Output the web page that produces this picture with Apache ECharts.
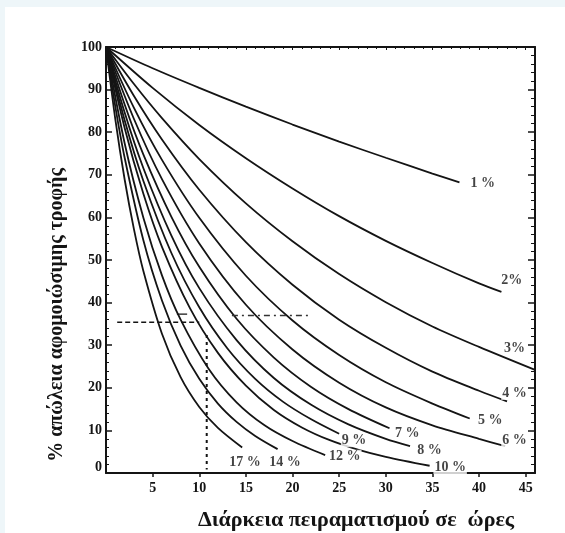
<!DOCTYPE html>
<html><head><meta charset="utf-8">
<script src="https://cdn.jsdelivr.net/npm/echarts@6/dist/echarts.min.js"></script>
<style>
html,body{margin:0;padding:0;background:#eef6f9;overflow:hidden;}
#paper{position:absolute;left:5px;top:7px;width:560px;height:526px;background:#ffffff;}
#chart{position:absolute;left:0;top:0;width:565px;height:533px;}
</style></head><body>
<div id="paper"></div><div id="chart"></div>
<script>
// ---- data ----
const xAxisTitle = 'Διάρκεια πειραματισμού σε  ώρες';
const yAxisTitle = '% απώλεια αφομοιώσιμης τροφής';

const curve1  = [[0,100],[5,95],[10,90.4],[15,86],[20,81.8],[25,77.8],[30,74],[35,70.3],[37.9,68.2]];
const curve2  = [[0,100],[5,90.4],[10,81.7],[15,73.9],[20,66.8],[25,60.3],[30,54.5],[35,49.3],[40,44.5],[42.4,42.5]];
const curve3  = [[0,100],[3,91.3],[6,83.3],[10,73.7],[15,63.3],[20,54.4],[25,46.7],[30,40.1],[35,34.4],[40,29.6],[46,24.2]];
const curve4  = [[0,100],[3,88.5],[6,78.3],[10,66.5],[15,54.2],[20,44.2],[25,36],[30,29.4],[35,23.8],[40,19.3],[43,16.8]];
const curve5  = [[0,100],[3,85.7],[6,73.5],[10,59.9],[15,46.3],[20,35.8],[25,27.7],[30,21.3],[35,16.3],[39,12.8]];
const curve6  = [[0,100],[3,83.1],[6,69],[10,53.9],[15,39.5],[20,29],[25,21.2],[30,15.4],[35,11.2],[40,8],[42.8,6.3]];
const curve7  = [[0,100],[2,86.5],[4,74.8],[7,60.2],[10,48.4],[14,36.2],[18,27.1],[22,20.2],[26,15],[30.4,10.5]];
const curve8  = [[0,100],[2,84.6],[4,71.6],[7,55.8],[10,43.4],[14,31.2],[18,22.3],[22,16],[26,11.4],[30,8],[32.6,6.3]];
const curve9  = [[0,100],[2,82.8],[4,68.6],[7,51.7],[10,38.9],[13,29.3],[16,22.1],[19,16.7],[22,12.6],[25,9.2]];
const curve10 = [[0,100],[2,81],[4,65.6],[6,53.1],[9,38.7],[12,28.2],[15,20.5],[18,14.8],[21,10.7],[24,7.7],[27,5.5],[30,3.8],[34.7,1.7]];
const curve12 = [[0,100],[2,77.4],[4,60],[6,46.4],[8,36],[11,24.5],[14,16.6],[17,11.2],[20,7.5],[23.5,4.2]];
const curve14 = [[0,100],[1,86],[2,74],[4,54.7],[6,40.5],[8,29.9],[10,22.1],[12,16.3],[14,12],[16,8.7],[18.4,5.6]];
const curve17 = [[0,100],[1,83],[2,68.9],[3,57.2],[4,47.5],[6,32.7],[8,22.5],[10,15.5],[12,10.6],[14.6,6]];

const curveLabels = ['1 %','2%','3%','4 %','5 %','6 %','7 %','8 %','9 %','10 %','12 %','14 %','17 %'];
const labelX      = [40.4, 43.5, 43.8, 43.8, 41.2, 43.8, 32.3, 34.7, 26.6, 36.9, 25.6, 19.2, 14.9];
const labelY      = [68.1, 45.3, 29.3, 18.8, 12.4, 7.7, 9.4, 5.4, 7.7, 1.4, 3.8, 2.6, 2.6];

const guideH    = [[1.2,35.4],[10,35.4]];
const guideV    = [[10.8,32.4],[10.8,0.8]];
const guideDash = [[13.5,37],[21.9,37]];
const guideTick = [[7.6,37.3],[8.7,37.3]];

// ---- chart ----
const curves = [curve1,curve2,curve3,curve4,curve5,curve6,curve7,curve8,curve9,curve10,curve12,curve14,curve17];
const SERIF = '"Liberation Serif","DejaVu Serif",serif';
const INK = '#141414';

const series = curves.map((c,i)=>({
  type:'line', data:c, smooth:0.3, showSymbol:false, silent:true,
  lineStyle:{color:INK,width:1.8}, z:2
}));
series.push({type:'line',data:guideH,showSymbol:false,silent:true,lineStyle:{color:INK,width:1.6,type:[5,3]}});
series.push({type:'line',data:guideV,showSymbol:false,silent:true,lineStyle:{color:INK,width:2,type:[3,4]}});
series.push({type:'line',data:guideDash,showSymbol:false,silent:true,lineStyle:{color:'#333',width:1.5,type:[6,4,2,4]}});
series.push({type:'line',data:guideTick,showSymbol:false,silent:true,lineStyle:{color:INK,width:1.2}});
series.push({
  type:'scatter', silent:true, symbolSize:0, z:5,
  data: labelX.map((x,i)=>({value:[x,labelY[i]], name:curveLabels[i]})),
  label:{show:true, position:'inside', formatter:p=>p.name, color:INK,
    fontFamily:SERIF, fontSize:14, fontWeight:'bold', backgroundColor:'#fff', padding:[0,1]}
});

const labelFont = {fontFamily:SERIF, fontSize:14, fontWeight:'bold', color:INK};

const chart = echarts.init(document.getElementById('chart'), null, {renderer:'canvas'});
chart.setOption({
  animation:false,
  backgroundColor:'transparent',
  grid:{left:106, right:30, top:47, bottom:60, containLabel:false, outerBoundsMode:'none'},
  xAxis:[{
    type:'value', min:0, max:46, interval:5, position:'bottom',
    axisLine:{show:true, onZero:false, lineStyle:{color:INK,width:2}},
    axisTick:{show:true, length:4, lineStyle:{color:INK,width:1.5}},
    axisLabel:Object.assign({showMinLabel:false, showMaxLabel:false, margin:8}, labelFont),
    splitLine:{show:false},
    name:xAxisTitle, nameLocation:'middle', nameGap:36,
    nameTextStyle:{fontFamily:SERIF, fontSize:22, fontWeight:'bold', color:INK, padding:[0,0,0,71]}
  },{
    type:'value', min:0, max:46, interval:5, position:'top',
    axisLine:{show:true, onZero:false, lineStyle:{color:INK,width:2}},
    axisTick:{show:true, inside:true, length:3, lineStyle:{color:INK,width:1}},
    minorTick:{show:true, splitNumber:5, length:2, lineStyle:{color:INK,width:1}},
    axisLabel:{show:false}, splitLine:{show:false}
  }],
  yAxis:[{
    type:'value', min:0, max:100, interval:10, position:'left',
    axisLine:{show:true, onZero:false, lineStyle:{color:INK,width:2}},
    axisTick:{show:true, inside:true, length:6, lineStyle:{color:INK,width:1.5}},
    minorTick:{show:true, splitNumber:5, length:3, lineStyle:{color:INK,width:1}},
    axisLabel:Object.assign({margin:4,
      formatter:v=> v===0 ? '{z|0}' : String(v),
      rich:{z:{fontFamily:SERIF,fontSize:14,fontWeight:'bold',color:INK,padding:[0,0,12,0]}}
    }, labelFont),
    splitLine:{show:false}
  },{
    type:'value', min:0, max:100, interval:10, position:'right',
    axisLine:{show:true, onZero:false, lineStyle:{color:INK,width:2}},
    axisTick:{show:true, inside:true, length:7, lineStyle:{color:INK,width:1.5}},
    minorTick:{show:true, splitNumber:5, length:4, lineStyle:{color:INK,width:1}},
    axisLabel:{show:false}, splitLine:{show:false}
  }],
  graphic:[{
    type:'text', x:57, y:315, rotation:Math.PI/2,
    style:{text:yAxisTitle, fontFamily:SERIF, fontSize:20, fontWeight:'bold', fill:INK,
      align:'center', verticalAlign:'middle'}
  }],
  series: series
});
</script>
</body></html>
